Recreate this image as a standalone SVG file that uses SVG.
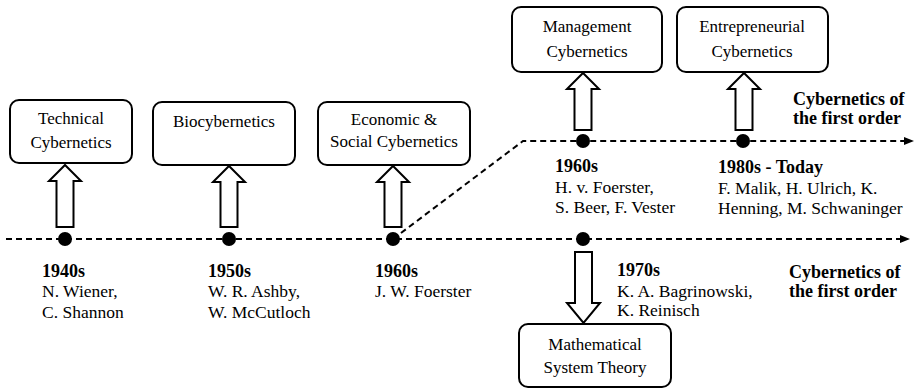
<svg xmlns="http://www.w3.org/2000/svg" width="916" height="388" viewBox="0 0 916 388">
<rect width="916" height="388" fill="#fff"/>
<g id="connectors">
<g fill="none" stroke="#000" stroke-width="2" stroke-dasharray="6 4">
<path d="M6,239 L902,239"/>
<path d="M393,239 L523,141 L906,141"/>
</g>
<g fill="#000">
<polygon points="900,235 910,239 900,243"/>
<polygon points="904,137 914,141 904,145"/>
<circle cx="65" cy="239" r="7"/>
<circle cx="229" cy="239" r="7"/>
<circle cx="393" cy="239" r="7"/>
<circle cx="583" cy="239" r="7"/>
<circle cx="583" cy="141" r="7"/>
<circle cx="743" cy="141" r="7"/>
</g>
<g fill="#fff" stroke="#000" stroke-width="2">
<path d="M56.5,227 L56.5,181 L49,181 L65,165 L81,181 L73.5,181 L73.5,227 Z"/>
<path d="M220.5,227 L220.5,182 L213,182 L229,166 L245,182 L237.5,182 L237.5,227 Z"/>
<path d="M384.5,227 L384.5,182 L377,182 L393,166 L409,182 L401.5,182 L401.5,227 Z"/>
<path d="M574.5,130 L574.5,89 L567,89 L583,73 L599,89 L591.5,89 L591.5,130 Z"/>
<path d="M735.5,130 L735.5,89 L728,89 L744,73 L760,89 L752.5,89 L752.5,130 Z"/>
<path d="M575,252 L575,303 L567,303 L583.5,323 L600,303 L592,303 L592,252 Z"/>
</g>
</g>
<g id="n-technical">
<rect x="10" y="100" width="122" height="63" rx="9" fill="#fff" stroke="#000" stroke-width="2"/>
<text x="71" y="124" font-family="Liberation Serif" font-size="17" text-anchor="middle">Technical</text>
<text x="71" y="148" font-family="Liberation Serif" font-size="17" text-anchor="middle">Cybernetics</text>
</g>
<g id="n-bio">
<rect x="153" y="102" width="142" height="63" rx="9" fill="#fff" stroke="#000" stroke-width="2"/>
<text x="224" y="127" font-family="Liberation Serif" font-size="17" text-anchor="middle">Biocybernetics</text>
</g>
<g id="n-economic">
<rect x="318" y="102" width="152" height="63" rx="9" fill="#fff" stroke="#000" stroke-width="2"/>
<text x="394" y="125" font-family="Liberation Serif" font-size="17" text-anchor="middle">Economic &amp;</text>
<text x="394" y="147" font-family="Liberation Serif" font-size="17" text-anchor="middle">Social Cybernetics</text>
</g>
<g id="n-management">
<rect x="512" y="7" width="150" height="65" rx="9" fill="#fff" stroke="#000" stroke-width="2"/>
<text x="587" y="32" font-family="Liberation Serif" font-size="17" text-anchor="middle">Management</text>
<text x="587" y="57" font-family="Liberation Serif" font-size="17" text-anchor="middle">Cybernetics</text>
</g>
<g id="n-entrepreneurial">
<rect x="677" y="7" width="151" height="65" rx="9" fill="#fff" stroke="#000" stroke-width="2"/>
<text x="752" y="32" font-family="Liberation Serif" font-size="17" text-anchor="middle">Entrepreneurial</text>
<text x="752" y="57" font-family="Liberation Serif" font-size="17" text-anchor="middle">Cybernetics</text>
</g>
<g id="n-math">
<rect x="519" y="324" width="152" height="63" rx="9" fill="#fff" stroke="#000" stroke-width="2"/>
<text x="595" y="350" font-family="Liberation Serif" font-size="17" text-anchor="middle">Mathematical</text>
<text x="595" y="373" font-family="Liberation Serif" font-size="17" text-anchor="middle">System Theory</text>
</g>
<g id="labels">
<text x="42" y="277" font-family="Liberation Serif" font-size="18" font-weight="bold">1940s</text>
<text x="208" y="277" font-family="Liberation Serif" font-size="18" font-weight="bold">1950s</text>
<text x="375" y="277" font-family="Liberation Serif" font-size="18" font-weight="bold">1960s</text>
<text x="555" y="172" font-family="Liberation Serif" font-size="18" font-weight="bold">1960s</text>
<text x="718" y="173" font-family="Liberation Serif" font-size="18" font-weight="bold">1980s - Today</text>
<text x="617" y="276" font-family="Liberation Serif" font-size="18" font-weight="bold">1970s</text>
<text x="793" y="105" font-family="Liberation Serif" font-size="18" font-weight="bold">Cybernetics of</text>
<text x="793" y="124" font-family="Liberation Serif" font-size="18" font-weight="bold">the first order</text>
<text x="789" y="278" font-family="Liberation Serif" font-size="18" font-weight="bold">Cybernetics of</text>
<text x="789" y="297" font-family="Liberation Serif" font-size="18" font-weight="bold">the first order</text>
<text x="42" y="297" font-family="Liberation Serif" font-size="17.5">N. Wiener,</text>
<text x="42" y="318" font-family="Liberation Serif" font-size="17.5">C. Shannon</text>
<text x="208" y="297" font-family="Liberation Serif" font-size="17.5">W. R. Ashby,</text>
<text x="208" y="318" font-family="Liberation Serif" font-size="17.5">W. McCutloch</text>
<text x="375" y="297" font-family="Liberation Serif" font-size="17.5">J. W. Foerster</text>
<text x="555" y="193" font-family="Liberation Serif" font-size="17.5">H. v. Foerster,</text>
<text x="555" y="213" font-family="Liberation Serif" font-size="17.5">S. Beer, F. Vester</text>
<text x="718" y="194" font-family="Liberation Serif" font-size="17.5">F. Malik, H. Ulrich, K.</text>
<text x="718" y="214" font-family="Liberation Serif" font-size="17.5">Henning, M. Schwaninger</text>
<text x="617" y="297" font-family="Liberation Serif" font-size="17.5">K. A. Bagrinowski,</text>
<text x="617" y="316" font-family="Liberation Serif" font-size="17.5">K. Reinisch</text>
</g>
</svg>
